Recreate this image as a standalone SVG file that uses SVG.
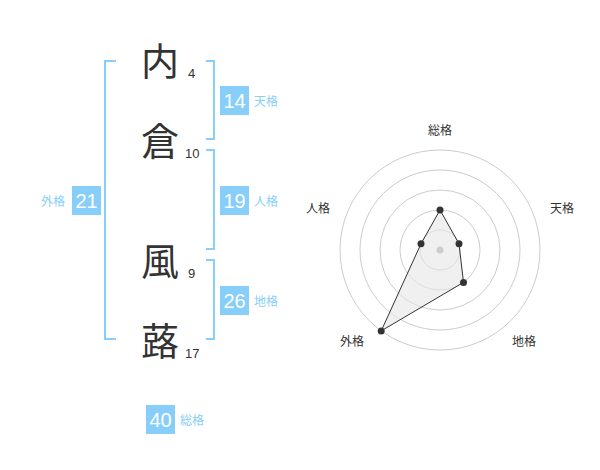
<svg xmlns="http://www.w3.org/2000/svg" width="600" height="470" viewBox="0 0 600 470">
<style>
.kanji{font-family:"Noto Sans CJK JP","Noto Sans CJK SC",sans-serif;font-size:38px;fill:#333;text-anchor:middle}
.num{font-family:"Liberation Sans",Arial,sans-serif;font-size:13px;fill:#333}
.box{fill:#87cefa}
.bnum{font-family:"Liberation Sans",Arial,sans-serif;font-size:20px;fill:#fff;text-anchor:middle}
.blab{font-family:"Noto Sans CJK JP",sans-serif;font-size:12px;fill:#87cefa}
.br{fill:none;stroke:#87cefa;stroke-width:2}
.ring{fill:none;stroke:#ccc;stroke-width:1}
.rlab{font-family:"Noto Sans CJK JP",sans-serif;font-size:12px;fill:#333;text-anchor:middle}
.dot{fill:#333}
</style>
<rect width="600" height="470" fill="#fff"/>
<g id="connectors">
<path class="br" d="M116,61 H105 V339 H116"/>
<path class="br" d="M206,61 H214 V139 H206"/>
<path class="br" d="M206,150 H214 V249 H206"/>
<path class="br" d="M206,260 H214 V339 H206"/>
</g>
<g id="char1"><text class="kanji" x="160" y="75">内</text><text class="num" x="188" y="78">4</text></g>
<g id="char2"><text class="kanji" x="160" y="155">倉</text><text class="num" x="185" y="158">10</text></g>
<g id="char3"><text class="kanji" x="160" y="275">風</text><text class="num" x="188" y="278">9</text></g>
<g id="char4"><text class="kanji" x="160" y="355">蕗</text><text class="num" x="185" y="358">17</text></g>
<g id="tenkaku"><rect class="box" x="220" y="86" width="29" height="29"/><text class="bnum" x="234.5" y="108">14</text><text class="blab" x="254" y="106">天格</text></g>
<g id="jinkaku"><rect class="box" x="220" y="186" width="29" height="29"/><text class="bnum" x="234.5" y="208">19</text><text class="blab" x="254" y="206">人格</text></g>
<g id="chikaku"><rect class="box" x="220" y="286" width="29" height="29"/><text class="bnum" x="234.5" y="308">26</text><text class="blab" x="254" y="306">地格</text></g>
<g id="gaikaku"><rect class="box" x="72" y="186" width="29" height="29"/><text class="bnum" x="86.5" y="208">21</text><text class="blab" x="41" y="206">外格</text></g>
<g id="soukaku"><rect class="box" x="146" y="405" width="29" height="29"/><text class="bnum" x="160.5" y="427">40</text><text class="blab" x="180" y="425">総格</text></g>
<g id="radar">
<circle class="ring" cx="440" cy="250" r="20"/>
<circle class="ring" cx="440" cy="250" r="40"/>
<circle class="ring" cx="440" cy="250" r="60"/>
<circle class="ring" cx="440" cy="250" r="80"/>
<circle class="ring" cx="440" cy="250" r="100"/>
<polygon points="440,210 459,243.8 463.5,282.4 381.2,330.9 421,243.8" fill="#e6e6e6" fill-opacity="0.6" stroke="#333" stroke-width="1"/>
<circle cx="440" cy="250" r="3.5" fill="#ccc"/>
<circle class="dot" cx="440" cy="210" r="3.5"/>
<circle class="dot" cx="459" cy="243.8" r="3.5"/>
<circle class="dot" cx="463.5" cy="282.4" r="3.5"/>
<circle class="dot" cx="381.2" cy="330.9" r="3.5"/>
<circle class="dot" cx="421" cy="243.8" r="3.5"/>
<text class="rlab" x="440" y="135">総格</text>
<text class="rlab" x="562" y="213">天格</text>
<text class="rlab" x="524" y="346">地格</text>
<text class="rlab" x="352" y="346">外格</text>
<text class="rlab" x="318" y="213">人格</text>
</g>
</svg>
